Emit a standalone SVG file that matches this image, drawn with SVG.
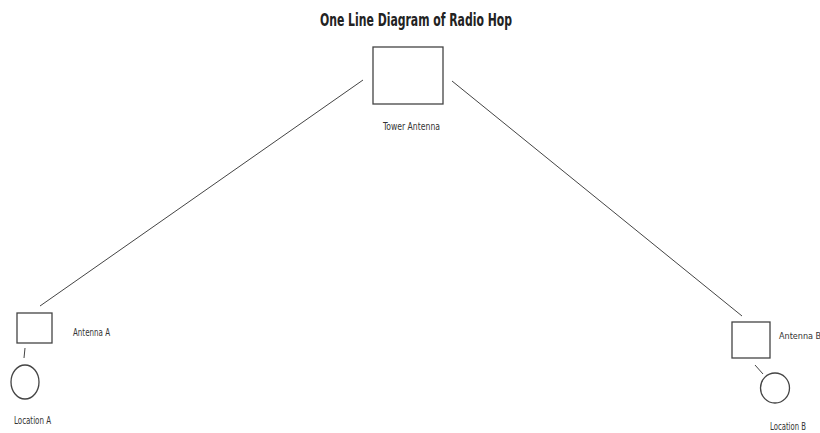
<svg xmlns="http://www.w3.org/2000/svg" width="820" height="433" viewBox="0 0 820 433">
<style>
.bg{fill:#fff}
.shape{fill:#fff;stroke:#444;stroke-width:1.3}
.conn{stroke:#444;stroke-width:1;fill:none}
.lbl{font-family:"Liberation Sans Narrow","DejaVu Sans Condensed","Liberation Sans",sans-serif;font-size:10px;fill:#333}
.title{font-family:"Liberation Sans Narrow","DejaVu Sans Condensed","Liberation Sans",sans-serif;font-size:18px;font-weight:bold;fill:#222}
</style>
<rect class="bg" x="0" y="0" width="820" height="433"/>
<text class="title" x="320" y="26" textLength="192" lengthAdjust="spacingAndGlyphs">One Line Diagram of Radio Hop</text>
<g id="connectors">
<line class="conn" x1="363" y1="80" x2="40" y2="306"/>
<line class="conn" x1="452" y1="81" x2="742" y2="316"/>
<line class="conn" x1="25" y1="348" x2="24" y2="358"/>
<line class="conn" x1="755" y1="365" x2="763" y2="374"/>
</g>
<g id="tower">
<rect class="shape" x="373" y="47" width="70" height="57"/>
<text class="lbl" x="383" y="130" textLength="57" lengthAdjust="spacingAndGlyphs">Tower Antenna</text>
</g>
<g id="antennaA">
<rect class="shape" x="17" y="313" width="35" height="30"/>
<text class="lbl" x="73" y="336" textLength="37" lengthAdjust="spacingAndGlyphs">Antenna A</text>
</g>
<g id="locationA">
<ellipse class="shape" cx="25" cy="382" rx="14" ry="17"/>
<text class="lbl" x="14" y="424" textLength="37" lengthAdjust="spacingAndGlyphs">Location A</text>
</g>
<g id="antennaB">
<rect class="shape" x="732" y="322" width="38" height="36"/>
<text class="lbl" x="779" y="339" style="font-size:9px">Antenna B</text>
</g>
<g id="locationB">
<ellipse class="shape" cx="775" cy="388" rx="14.5" ry="15"/>
<text class="lbl" x="770" y="430" textLength="36" lengthAdjust="spacingAndGlyphs">Location B</text>
</g>
</svg>
